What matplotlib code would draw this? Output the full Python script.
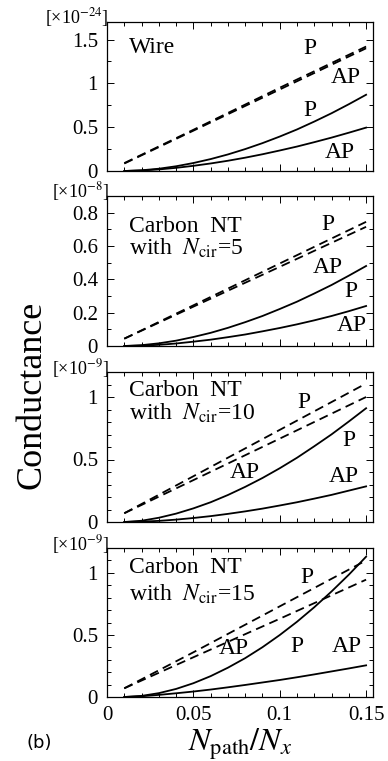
import matplotlib
matplotlib.use("Agg")
import matplotlib.pyplot as plt
from matplotlib.ticker import MultipleLocator, FuncFormatter

plt.rcParams['font.family'] = ['Liberation Serif', 'DejaVu Serif']
plt.rcParams['mathtext.fontset'] = 'stix'

# ---------------- data ----------------
x_solid = [0.01, 0.02, 0.03, 0.04, 0.05, 0.06, 0.07, 0.08,
           0.09, 0.10, 0.11, 0.12, 0.13, 0.14, 0.15]
x_dash = [0.01, 0.05, 0.10, 0.15]

# Wire (x1e-24)
wire_P_solid = [0, .008, .026, .054, .091, .136, .189, .250, .318, .393, .474, .564, .659, .762, .87]
wire_AP_solid = [0, .006, .018, .036, .059, .086, .117, .152, .191, .234, .279, .329, .381, .437, .495]
wire_P_dash = [0.09, 0.47, 0.95, 1.42]
wire_AP_dash = [0.085, 0.46, 0.93, 1.40]

# Carbon NT, Ncir=5 (x1e-8)
cnt5_P_solid = [0, .005, .016, .032, .054, .079, .109, .143, .180, .222, .266, .315, .366, .422, .48]
cnt5_AP_solid = [0, .002, .007, .015, .026, .038, .053, .069, .088, .108, .130, .154, .180, .209, .24]
cnt5_P_dash = [0.044, 0.244, 0.495, 0.745]
cnt5_AP_dash = [0.044, 0.236, 0.475, 0.715]

# Carbon NT, Ncir=10 (x1e-9)
cnt10_P_solid = [0, .010, .034, .067, .109, .158, .216, .281, .352, .430, .514, .606, .701, .804, .91]
cnt10_AP_solid = [0, .003, .009, .019, .032, .047, .065, .085, .107, .132, .158, .187, .217, .251, .285]
cnt10_P_dash = [0.07, 0.366, 0.737, 1.108]
cnt10_AP_dash = [0.07, 0.335, 0.667, 1.0]

# Carbon NT, Ncir=15 (x1e-9)
cnt15_P_solid = [0, .009, .031, .065, .111, .168, .236, .313, .401, .499, .606, .723, .850, .985, 1.13]
cnt15_AP_solid = [0, .006, .017, .030, .044, .060, .078, .097, .117, .137, .159, .182, .206, .230, .255]
cnt15_P_dash = [0.07, 0.36, 0.73, 1.10]
cnt15_AP_dash = [0.07, 0.32, 0.63, 0.945]

panels = [
    dict(Ps=wire_P_solid, APs=wire_AP_solid, Pd=wire_P_dash, APd=wire_AP_dash,
         ylim=1.7, major=0.5, minor=0.25, exp=r"[×10$^{-24}$]",
         title=["Wire"], title_y=[1.41],
         labels=[("P", 0.1177, 1.40), ("AP", 0.138, 1.07), ("P", 0.1177, 0.69), ("AP", 0.135, 0.216)]),
    dict(Ps=cnt5_P_solid, APs=cnt5_AP_solid, Pd=cnt5_P_dash, APd=cnt5_AP_dash,
         ylim=0.9, major=0.2, minor=0.1, exp=r"[×10$^{-8}$]",
         title=["Carbon  NT", r"with  $N_{\rm cir}$=5"], title_y=[0.72, 0.585],
         labels=[("P", 0.128, 0.73), ("AP", 0.128, 0.47), ("P", 0.141, 0.327), ("AP", 0.142, 0.125)]),
    dict(Ps=cnt10_P_solid, APs=cnt10_AP_solid, Pd=cnt10_P_dash, APd=cnt10_AP_dash,
         ylim=1.2, major=0.5, minor=0.1, exp=r"[×10$^{-9}$]",
         title=["Carbon  NT", r"with  $N_{\rm cir}$=10"], title_y=[1.054, 0.87],
         labels=[("P", 0.114, 0.96), ("P", 0.140, 0.65), ("AP", 0.080, 0.40), ("AP", 0.137, 0.36)]),
    dict(Ps=cnt15_P_solid, APs=cnt15_AP_solid, Pd=cnt15_P_dash, APd=cnt15_AP_dash,
         ylim=1.2, major=0.5, minor=0.1, exp=r"[×10$^{-9}$]",
         title=["Carbon  NT", r"with  $N_{\rm cir}$=15"], title_y=[1.04, 0.825],
         labels=[("P", 0.1158, 0.96), ("AP", 0.0735, 0.39), ("P", 0.110, 0.405), ("AP", 0.139, 0.405)]),
]

W, H = 388, 761
fig = plt.figure(figsize=(W / 100, H / 100), dpi=100)
boxes = [(22, 171), (196, 346), (372, 522), (548, 697)]
left_px, right_px = 107, 373

fmt = FuncFormatter(lambda v, p: "%g" % round(v, 3))

for i, (pan, (t, b)) in enumerate(zip(panels, boxes)):
    ax = fig.add_axes([left_px / W, 1 - b / H, (right_px - left_px) / W, (b - t) / H])
    ax.plot(x_dash, pan['Pd'], color='black', lw=1.3, ls=(0, (5, 3)))
    ax.plot(x_dash, pan['APd'], color='black', lw=1.3, ls=(0, (5, 3)))
    ax.plot(x_solid, pan['Ps'], color='black', lw=1.3)
    ax.plot(x_solid, pan['APs'], color='black', lw=1.3)
    ax.set_xlim(0, 0.154)
    ax.set_ylim(0, pan['ylim'])
    ax.xaxis.set_major_locator(MultipleLocator(0.05))
    ax.xaxis.set_minor_locator(MultipleLocator(0.01))
    ax.yaxis.set_major_locator(MultipleLocator(pan['major']))
    ax.yaxis.set_minor_locator(MultipleLocator(pan['minor']))
    ax.yaxis.set_major_formatter(fmt)
    ax.xaxis.set_major_formatter(fmt)
    ax.tick_params(which='both', direction='in', top=True, right=True, labelsize=15, width=0.7)
    ax.tick_params(which='major', length=5, pad=6.5)
    ax.tick_params(which='minor', length=3)
    for s in ax.spines.values():
        s.set_linewidth(0.9)
    if i < 3:
        ax.tick_params(labelbottom=False)
    for txt, ty in zip(pan['title'], pan['title_y']):
        ax.text(0.0125, ty, txt, fontsize=17, ha='left', va='center')
    for txt, lx, ly in pan['labels']:
        ax.text(lx, ly, txt, fontsize=17, ha='center', va='center')
    ax.text(0.005, 1.0 + 4.0 / (b - t), pan['exp'], transform=ax.transAxes, fontsize=13,
            ha='right', va='center')

fig.text(0.083, 1 - 395 / H, "Conductance", rotation=90, fontsize=26, ha='center', va='center')
fig.text(240 / W, 1 - 744 / H, r"$N_{\rm path}/N_x$", fontsize=23, ha='center', va='center')
fig.text(27 / W, 1 - 743 / H, "(b)", fontsize=13, ha='left', va='center', family='DejaVu Sans')

fig.savefig("out.png", dpi=100)
